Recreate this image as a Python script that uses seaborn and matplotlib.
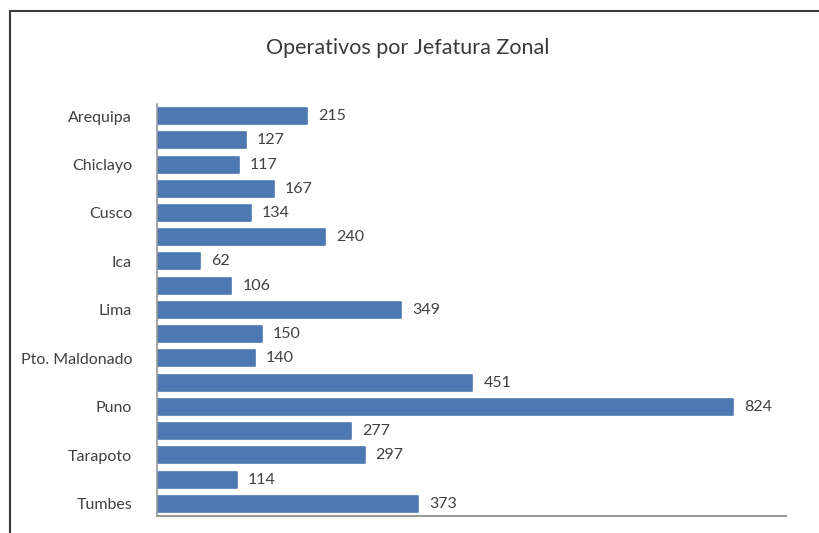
import matplotlib
matplotlib.use("Agg")
import matplotlib.pyplot as plt
import seaborn as sns
import pandas as pd
from matplotlib.lines import Line2D

tick_labels = ["Arequipa", "", "Chiclayo", "", "Cusco", "", "Ica", "", "Lima", "",
               "Pto. Maldonado", "", "Puno", "", "Tarapoto", "", "Tumbes"]
positions = list(range(len(tick_labels)))
values = [215, 127, 117, 167, 134, 240, 62, 106, 349, 150, 140, 451, 824, 277, 297, 114, 373]

sns.set_theme(style="white")
plt.rcParams['font.family'] = ['Lato', 'DejaVu Sans']

df = pd.DataFrame({"pos": [str(p) for p in positions], "val": values})

fig = plt.figure(figsize=(8.2, 5.33), dpi=100)
ax = fig.add_axes([0.1915, 0.032, 0.767, 0.773])
sns.barplot(data=df, y="pos", x="val", orient="h", color="#4e78b2", saturation=1,
            width=0.66, ax=ax, edgecolor="#4e78b2", linewidth=1.2)
for p in ax.patches:
    p.set_joinstyle("round")

ax.set_xlim(0, 900)
ax.set_ylim(len(values) - 0.5, -0.5)
ax.set_yticks(positions)
ax.set_yticklabels(tick_labels, fontsize=11.5, color="#404040")
ax.set_xticks([])
ax.set_xlabel("")
ax.set_ylabel("")
ax.tick_params(axis="y", length=0, pad=18)
for s in ["top", "right"]:
    ax.spines[s].set_visible(False)
ax.spines["left"].set_color("#999999")
ax.spines["bottom"].set_color("#999999")
ax.spines["left"].set_linewidth(1.2)
ax.spines["bottom"].set_linewidth(1.5)

for c in ax.containers:
    ax.bar_label(c, labels=[str(v) for v in values], padding=8, fontsize=11.5, color="#404040")

fig.text(0.497, 0.91, "Operativos por Jefatura Zonal", ha="center", va="center",
         fontsize=15.5, color="#3a3a3a", fontweight="normal")

fig.add_artist(Line2D([0.012, 1.0], [0.979, 0.979], transform=fig.transFigure,
                      color="#3a3a3a", lw=1.5))
fig.add_artist(Line2D([0.012, 0.012], [0.0, 0.979], transform=fig.transFigure,
                      color="#3a3a3a", lw=1.5))

fig.savefig("out.png", dpi=100)
